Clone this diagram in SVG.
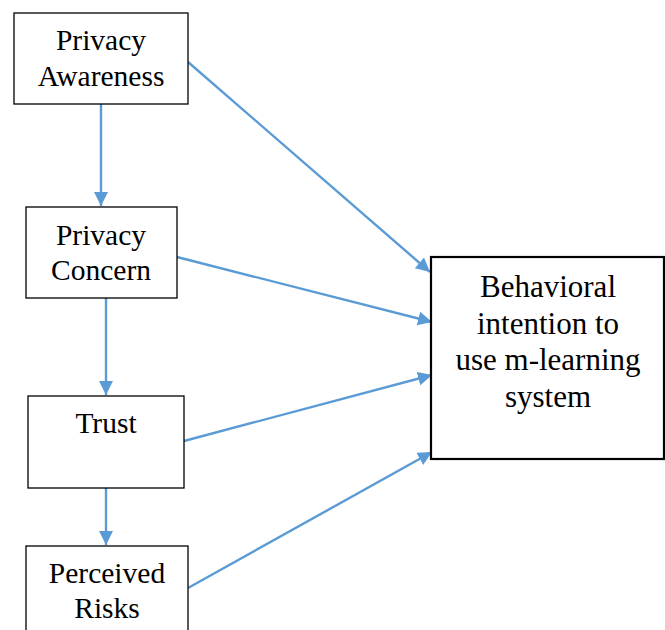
<svg xmlns="http://www.w3.org/2000/svg" width="665" height="630" viewBox="0 0 665 630">
  <style>
    .box { fill: #ffffff; stroke: #000000; stroke-width: 1.3; }
    .box-main { fill: #ffffff; stroke: #000000; stroke-width: 2.2; }
    .label { font-family: "Liberation Serif", "Times New Roman", serif; font-size: 29.5px; fill: #000000; text-anchor: middle; }
    .label-main { font-family: "Liberation Serif", "Times New Roman", serif; font-size: 31px; fill: #000000; text-anchor: middle; }
    .edge { stroke: #5B9BD5; stroke-width: 2.4; fill: none; marker-end: url(#arrow); }
  </style>
  <defs>
    <marker id="arrow" markerWidth="15" markerHeight="14" refX="14" refY="7" orient="auto" markerUnits="userSpaceOnUse">
      <path d="M0,0 L14,7 L0,14 Z" fill="#5B9BD5"/>
    </marker>
  </defs>
  <rect width="665" height="630" fill="#ffffff"/>

  <g id="connectors">
    <line class="edge" x1="101" y1="104" x2="101" y2="206"/>
    <line class="edge" x1="106" y1="298" x2="106" y2="395"/>
    <line class="edge" x1="106" y1="488" x2="106" y2="545"/>
    <line class="edge" x1="188" y1="62" x2="430" y2="272"/>
    <line class="edge" x1="177" y1="257" x2="432" y2="322"/>
    <line class="edge" x1="184" y1="441" x2="432" y2="375"/>
    <line class="edge" x1="188" y1="588" x2="432" y2="452"/>
  </g>

  <g id="privacy-awareness">
    <rect class="box" x="14" y="13" width="174" height="91"/>
    <text class="label" x="101" y="50">Privacy</text>
    <text class="label" x="101" y="86">Awareness</text>
  </g>

  <g id="privacy-concern">
    <rect class="box" x="26" y="207" width="151" height="91"/>
    <text class="label" x="101" y="245">Privacy</text>
    <text class="label" x="101" y="280">Concern</text>
  </g>

  <g id="trust">
    <rect class="box" x="28" y="396" width="156" height="92"/>
    <text class="label" x="106" y="433">Trust</text>
  </g>

  <g id="perceived-risks">
    <rect class="box" x="26" y="546" width="162" height="100"/>
    <text class="label" x="107" y="583">Perceived</text>
    <text class="label" x="107" y="618">Risks</text>
  </g>

  <g id="behavioral-intention">
    <rect class="box-main" x="431" y="257" width="233" height="202"/>
    <text class="label-main" x="548" y="297">Behavioral</text>
    <text class="label-main" x="548" y="334">intention to</text>
    <text class="label-main" x="548" y="370">use m-learning</text>
    <text class="label-main" x="548" y="407">system</text>
  </g>
</svg>
